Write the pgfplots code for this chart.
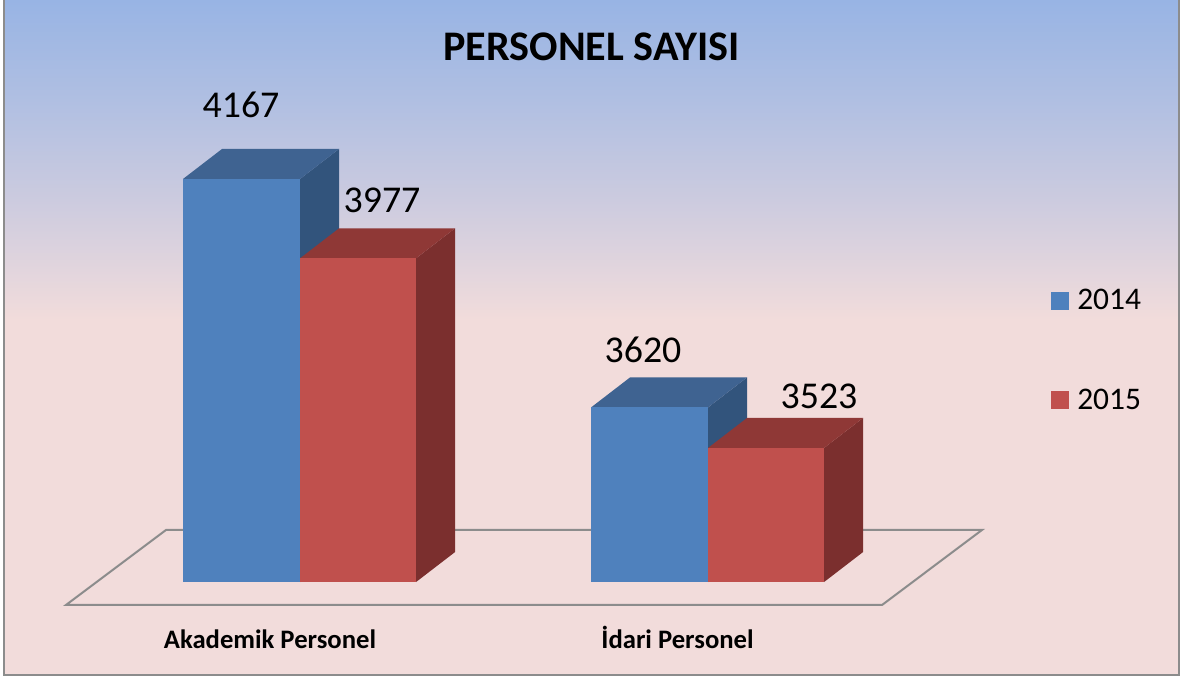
\documentclass[border=0pt]{standalone}
\usepackage{pgfplots}
\pgfplotsset{compat=1.18}
\usepackage{fontspec}
\setmainfont{Carlito}
\definecolor{bluefront}{HTML}{4F81BD}
\definecolor{bluetop}{HTML}{3F6391}
\definecolor{blueside}{HTML}{32547C}
\definecolor{redfront}{HTML}{C0504D}
\definecolor{redtop}{HTML}{8F3836}
\definecolor{redside}{HTML}{7B2F2E}
\definecolor{framegray}{HTML}{8C8C8C}
\definecolor{bga}{RGB}{152,180,228}
\definecolor{bgb}{RGB}{176,191,226}
\definecolor{bgc}{RGB}{204,203,223}
\definecolor{bgd}{RGB}{226,213,221}
\definecolor{bge}{RGB}{242,220,219}
\begin{document}
\begin{tikzpicture}
\useasboundingbox (0,0) rectangle (888pt,507.75pt);
% background (pixel positions x 0.75pt; page y = (677 - py) * 0.75pt)
\fill[top color=bga, bottom color=bgb, draw=none] (3pt,507.75pt) rectangle (884.5pt,432.5pt);
\fill[top color=bgb, bottom color=bgc, draw=none] (3pt,432.75pt) rectangle (884.5pt,357.5pt);
\fill[top color=bgc, bottom color=bgd, draw=none] (3pt,357.75pt) rectangle (884.5pt,305pt);
\fill[top color=bgd, bottom color=bge, draw=none] (3pt,305.25pt) rectangle (884.5pt,267.5pt);
\fill[bge] (3pt,267.75pt) rectangle (884.5pt,1.5pt);
\draw[framegray, line width=1.5pt] (3pt,507.75pt) -- (3pt,1.5pt) -- (884.5pt,1.5pt) -- (884.5pt,507.75pt);
\begin{axis}[
  at={(0pt,54pt)}, anchor=south west,
  scale only axis, width=888pt, height=453.75pt,
  xmin=0, xmax=1184, ymin=3147.1, ymax=4595.5,
  clip=false,
  axis line style={draw=none},
  ytick=\empty,
  xtick={270,677.5},
  xticklabels={Akademik Personel,İdari Personel},
  major tick length=0pt,
  x tick label style={font=\fontsize{20}{23}\selectfont\bfseries, anchor=center, yshift=-25.5pt, text height=14.6pt, text depth=0pt},
  title={PERSONEL SAYISI},
  title style={at={(0.4995,0.9207)}, anchor=center, yshift=-5.25pt, font=\fontsize{31.6}{36}\selectfont\bfseries},
  legend image code/.code={\fill[#1] (0pt,-6.75pt) rectangle (13.5pt,6.75pt);},
  legend style={at={(axis cs:1051,3903)}, anchor=north west, draw=none, fill=none,
    row sep=58pt, font=\fontsize{23.6}{26}\selectfont, inner xsep=0pt, inner ysep=0pt,
    nodes={inner xsep=3pt, inner ysep=0pt}},
  legend cell align=left,
]
% floor
\addplot[framegray, line width=1.5pt, forget plot] coordinates {(66,3147.1) (882,3147.1) (982,3326.7) (166,3326.7)} -- cycle;
% Akademik, 2014
\addplot[fill=blueside, draw=none, forget plot] coordinates {(300,3202) (339,3273.8) (339,4238.8) (300,4167)} -- cycle;
\addplot[fill=bluetop, draw=none, forget plot] coordinates {(183,4167) (300,4167) (339,4238.8) (222,4238.8)} -- cycle;
\addplot[fill=bluefront, draw=none] coordinates {(183,3202) (300,3202) (300,4167) (183,4167)} -- cycle;
\addlegendentry{\hspace{3pt}2014}
% Akademik, 2015
\addplot[fill=redside, draw=none, forget plot] coordinates {(416,3202) (455,3273.8) (455,4048.8) (416,3977)} -- cycle;
\addplot[fill=redtop, draw=none, forget plot] coordinates {(300,3977) (416,3977) (455,4048.8) (339,4048.8)} -- cycle;
\addplot[fill=redfront, draw=none] coordinates {(300,3202) (416,3202) (416,3977) (300,3977)} -- cycle;
\addlegendentry{\hspace{3pt}2015}
% Idari, 2014
\addplot[fill=blueside, draw=none, forget plot] coordinates {(708,3202) (747,3273.8) (747,3691.8) (708,3620)} -- cycle;
\addplot[fill=bluetop, draw=none, forget plot] coordinates {(591,3620) (708,3620) (747,3691.8) (630,3691.8)} -- cycle;
\addplot[fill=bluefront, draw=none, forget plot] coordinates {(591,3202) (708,3202) (708,3620) (591,3620)} -- cycle;
% Idari, 2015
\addplot[fill=redside, draw=none, forget plot] coordinates {(824,3202) (863,3273.8) (863,3594.8) (824,3523)} -- cycle;
\addplot[fill=redtop, draw=none, forget plot] coordinates {(708,3523) (824,3523) (863,3594.8) (747,3594.8)} -- cycle;
\addplot[fill=redfront, draw=none, forget plot] coordinates {(708,3202) (824,3202) (824,3523) (708,3523)} -- cycle;
% value labels
\node[font=\fontsize{28.4}{30}\selectfont] at (axis cs:241,4344) {4167};
\node[font=\fontsize{28.4}{30}\selectfont] at (axis cs:382,4116.7) {3977};
\node[font=\fontsize{28.4}{30}\selectfont] at (axis cs:643,3757.6) {3620};
\node[font=\fontsize{28.4}{30}\selectfont] at (axis cs:819,3647.5) {3523};
\end{axis}
\end{tikzpicture}
\end{document}
